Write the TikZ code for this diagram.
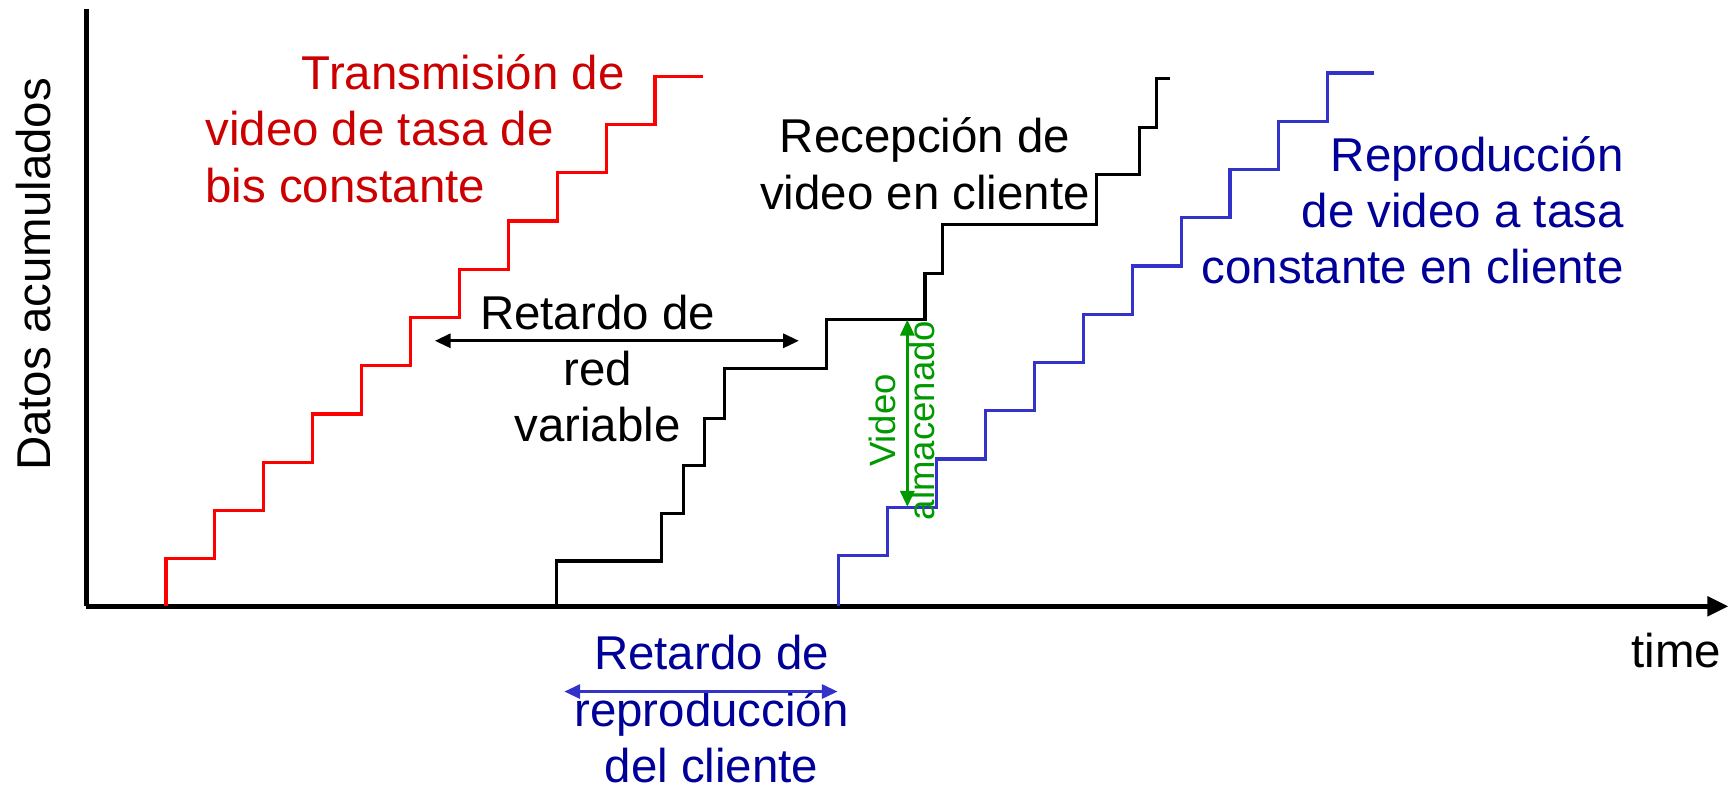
\documentclass[tikz,border=0pt]{standalone}
\usepackage{fontspec}
\setmainfont{Liberation Sans}
\usetikzlibrary{arrows.meta}
\definecolor{redline}{RGB}{255,0,0}
\definecolor{redtext}{RGB}{204,0,0}
\definecolor{blueline}{RGB}{51,51,204}
\definecolor{bluetext}{RGB}{0,0,153}
\definecolor{greenline}{RGB}{0,153,0}
\tikzset{
  lbl/.style={font=\fontsize{13.5}{16}\selectfont,inner sep=0pt,align=center},
  stair/.style={line width=0.9pt,line join=miter},
  dbl/.style={line width=0.85pt,{Triangle[length=4.5pt,width=4pt]}-{Triangle[length=4.5pt,width=4pt]}}
}
\begin{document}
\begin{tikzpicture}[x=0.011065cm,y=-0.011065cm]
\useasboundingbox (0,0) rectangle (1568,713);
% axes
\coordinate (o) at (78,548);
\coordinate (ytop) at (78,8);
\coordinate (xend) at (1562,548);
\draw[line width=1.3pt] (ytop) -- (o);
\draw[line width=1.3pt,-{Triangle[length=6pt,width=5.5pt]}] (o) -- (xend);
\node[lbl,rotate=90] (ylab) at (30,248) {Datos acumulados};
\node[lbl] (xlab) at (1515,588) {time};
% staircases
\draw[stair,redline] (150,548) -- (150,505)
  \foreach \i in {1,...,10} { -- ++(44.2,0) -- ++(0,-43.6) } -- ++(43,0);
\draw[stair,black] (503,548) -- (503,507) -- (598,507) -- (598,464) -- (618,464)
  -- (618,421) -- (637,421) -- (637,378) -- (655,378) -- (655,333) -- (747,333)
  -- (747,289) -- (836,289) -- (836,247) -- (852,247) -- (852,203) -- (991,203)
  -- (991,158) -- (1030,158) -- (1030,115) -- (1045,115) -- (1045,71) -- (1057,71);
\draw[stair,blueline] (758,548) -- (758,502)
  \foreach \i in {1,...,10} { -- ++(44.2,0) -- ++(0,-43.6) } -- ++(42,0);
% labels
\node[lbl,text=redtext,anchor=east] (tx1) at (565,65) {Transmisión de};
\node[lbl,text=redtext,anchor=west,align=left] (tx2) at (185,142) {video de tasa de\\bis constante};
\node[lbl] (rx) at (836,148) {Recepción de\\video en cliente};
\node[lbl,text=bluetext,anchor=east,align=right] (play) at (1468,190) {Reproducción\\de video a tasa\\constante en cliente};
\node[lbl] (netdelay) at (540,333) {Retardo de\\red\\variable};
\node[lbl,text=bluetext] (playdelay) at (643,641) {Retardo de\\reproducción\\del cliente};
\node[lbl,text=greenline,rotate=90,font=\fontsize{10.4}{11}\selectfont] (buf) at (815,380) {Video\\almacenado};
% arrows
\coordinate (nl) at (393,308);
\coordinate (nr) at (722,308);
\draw[dbl] (nl) -- (nr);
\coordinate (bt) at (820,289);
\coordinate (bb) at (820,458);
\draw[dbl,greenline] (bt) -- (bb);
\coordinate (pl) at (510,625);
\coordinate (pr) at (757,625);
\draw[dbl,blueline] (pl) -- (pr);
\end{tikzpicture}
\end{document}
